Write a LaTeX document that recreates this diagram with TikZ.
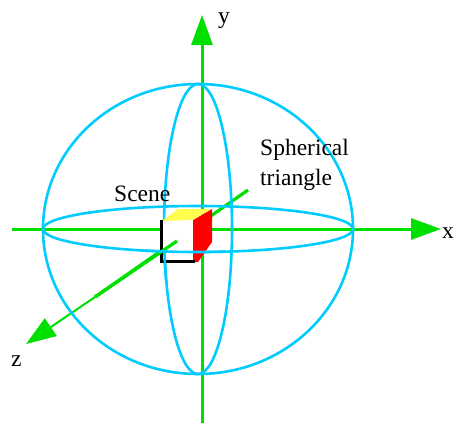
\documentclass[tikz,border=0pt]{standalone}
\usepackage{fontspec}
\setmainfont{Liberation Serif}
\usetikzlibrary{arrows.meta}
\definecolor{axisgreen}{RGB}{0,224,0}
\definecolor{spherecyan}{RGB}{0,204,255}
\definecolor{cubeyellow}{RGB}{255,255,80}
\tikzset{
  axisline/.style={draw=axisgreen,line width=3pt,-{Triangle[length=30pt,width=21pt,fill=axisgreen]}},
  zthin/.style={draw=axisgreen,line width=2pt,-{Triangle[length=30pt,width=21pt,fill=axisgreen]}},
  zthick/.style={draw=axisgreen,line width=3.2pt},
  sphereline/.style={draw=spherecyan,line width=2.6pt},
  lbl/.style={inner sep=0pt,anchor=base west,font=\fontsize{23.5pt}{28pt}\selectfont}
}
\begin{document}
\begin{tikzpicture}[x=1pt,y=-1pt]
\useasboundingbox (0,0) rectangle (454,424);
% axis ends
\coordinate (xs) at (12,229); \coordinate (xe) at (441,229);
\coordinate (ys) at (202,423); \coordinate (ye) at (202,15);
\coordinate (zs) at (248,190); \coordinate (zm) at (95,297);
\coordinate (ze) at (26,344); \coordinate (zc) at (177,241);
\coordinate (c) at (198,229);
\draw[axisline] (xs) -- (xe);
\draw[axisline] (ys) -- (ye);
\draw[zthin] (zm) -- (ze);
\draw[zthick] (zs) -- (zm);
% sphere
\draw[sphereline] (c) ellipse [x radius=155pt,y radius=145pt];
\draw[sphereline] (c) ellipse [x radius=155pt,y radius=23pt];
\draw[sphereline] (c) ellipse [x radius=34pt,y radius=145pt];
% cube
\fill[white] (161,221) rectangle (193,261);
\fill[red] (193,220) -- (212,209) -- (212,242) -- (198,262) -- (193,262) -- cycle;
\fill[cubeyellow] (162,221) -- (178,209) -- (211,209) -- (193,220) -- cycle;
\draw[black,line width=3pt,line cap=butt] (161,220) -- (161,261) -- (195,261);
% parts in front of the cube
\draw[zthick] (zm) -- (zc);
\draw[sphereline,line cap=butt] plot[domain=80:110,samples=16] ({198+155*cos(\x)},{229+23*sin(\x)});
\draw[sphereline,line cap=butt] plot[domain=9:22,samples=8] ({198-34*cos(\x)},{229+145*sin(\x)});
% labels
\node[lbl] (ylab) at (218,23) {y};
\node[lbl] (xlab) at (442,238) {x};
\node[lbl] (zlab) at (11,366) {z};
\node[lbl] (scene) at (114,201) {Scene};
\node[lbl] (sph) at (260,155) {Spherical};
\node[lbl] (tri) at (260,185) {triangle};
\end{tikzpicture}
\end{document}
